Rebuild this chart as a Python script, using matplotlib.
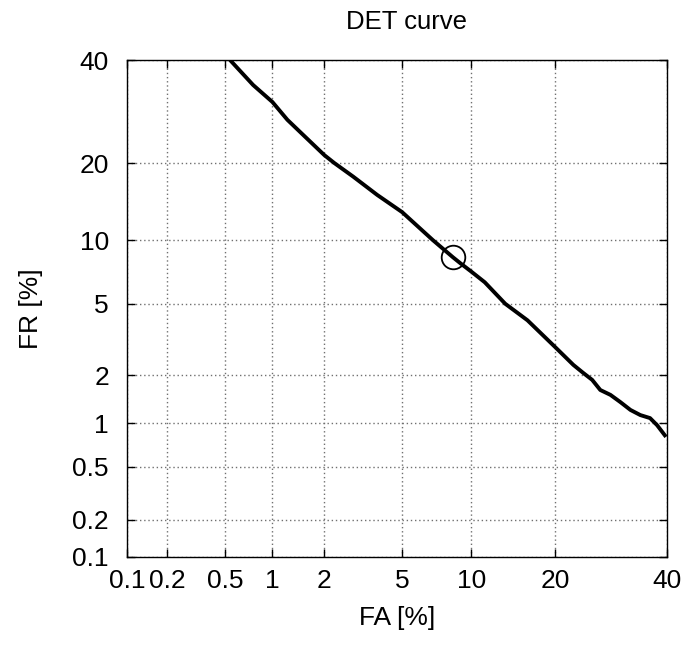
import math
import numpy as np
import matplotlib
matplotlib.use("Agg")
import matplotlib.pyplot as plt

plt.rcParams['font.family'] = ['Liberation Sans', 'DejaVu Sans']

# DET curve data (percent)
fa = [0.54, 0.76, 1.0, 1.23, 1.52, 2.0, 2.27, 2.86, 3.79, 5.0, 6.9, 8.4, 9.0,
      10.0, 11.3, 13.5, 16.2, 20.0, 22.8, 24.4, 25.9, 27.3, 29.1, 30.9, 32.8,
      34.7, 36.6, 38.0, 39.8]
fr = [40.0, 34.6, 31.1, 27.6, 24.8, 21.3, 20.0, 17.9, 15.3, 13.1, 10.0, 8.4, 7.9,
      7.2, 6.4, 5.0, 4.1, 2.93, 2.31, 2.07, 1.88, 1.63, 1.52, 1.37, 1.22,
      1.13, 1.08, 0.97, 0.81]
eer_fa = [8.4]
eer_fr = [8.4]
ticks = [0.1, 0.2, 0.5, 1, 2, 5, 10, 20, 40]
tick_labels = ["0.1", "0.2", "0.5", "1", "2", "5", "10", "20", "40"]

_erf = np.vectorize(math.erf, otypes=[float])


def _cdf(x):
    x = np.asarray(x, dtype=float)
    if x.size == 0:
        return x.copy()
    return 0.5 * (1.0 + _erf(x / math.sqrt(2.0)))


def _ppf(p):
    p = np.clip(np.asarray(p, dtype=float), 1e-12, 1 - 1e-12)
    if p.size == 0:
        return p.copy()
    x = np.log(p / (1 - p)) / 1.7
    for _ in range(60):
        f = _cdf(x) - p
        d = np.exp(-0.5 * x * x) / math.sqrt(2 * math.pi)
        step = f / np.maximum(d, 1e-300)
        x = x - np.clip(step, -1.0, 1.0)
    return x


def fwd(v):
    return _ppf(np.asarray(v, dtype=float) / 100.0)


def inv(v):
    return _cdf(v) * 100.0


fig = plt.figure(figsize=(6.83, 6.49), dpi=100)
ax = fig.add_axes([127 / 683, 1 - 557 / 649, 540 / 683, 497 / 649])
ax.set_xscale('function', functions=(fwd, inv))
ax.set_yscale('function', functions=(fwd, inv))

ax.plot(fa, fr, color='black', linewidth=2.8, solid_joinstyle='round',
        solid_capstyle='butt', clip_on=True)
ax.plot(eer_fa, eer_fr, marker='o', markersize=17, markerfacecolor='none',
        markeredgecolor='black', markeredgewidth=1.3, linestyle='none')

ax.set_xlim(0.1, 40)
ax.set_ylim(0.1, 40)
ax.set_xticks(ticks)
ax.set_xticklabels(tick_labels)
ax.set_yticks(ticks)
ax.set_yticklabels(tick_labels)
ax.minorticks_off()

ax.grid(True, color='#707070', linestyle=(0, (1, 2)), linewidth=1.0)
ax.tick_params(direction='in', length=6, width=1, top=True, right=True,
               labelsize=19, colors='black')
ax.tick_params(axis='x', pad=9)
ax.tick_params(axis='y', pad=13)
for s in ax.spines.values():
    s.set_linewidth(1.0)

ax.set_title('DET curve', fontsize=18.5, pad=22, x=0.518)
ax.set_xlabel('FA [%]', fontsize=19, labelpad=9)
ax.set_ylabel('FR [%]', fontsize=19, labelpad=21)

fig.savefig('out.png', dpi=100)
